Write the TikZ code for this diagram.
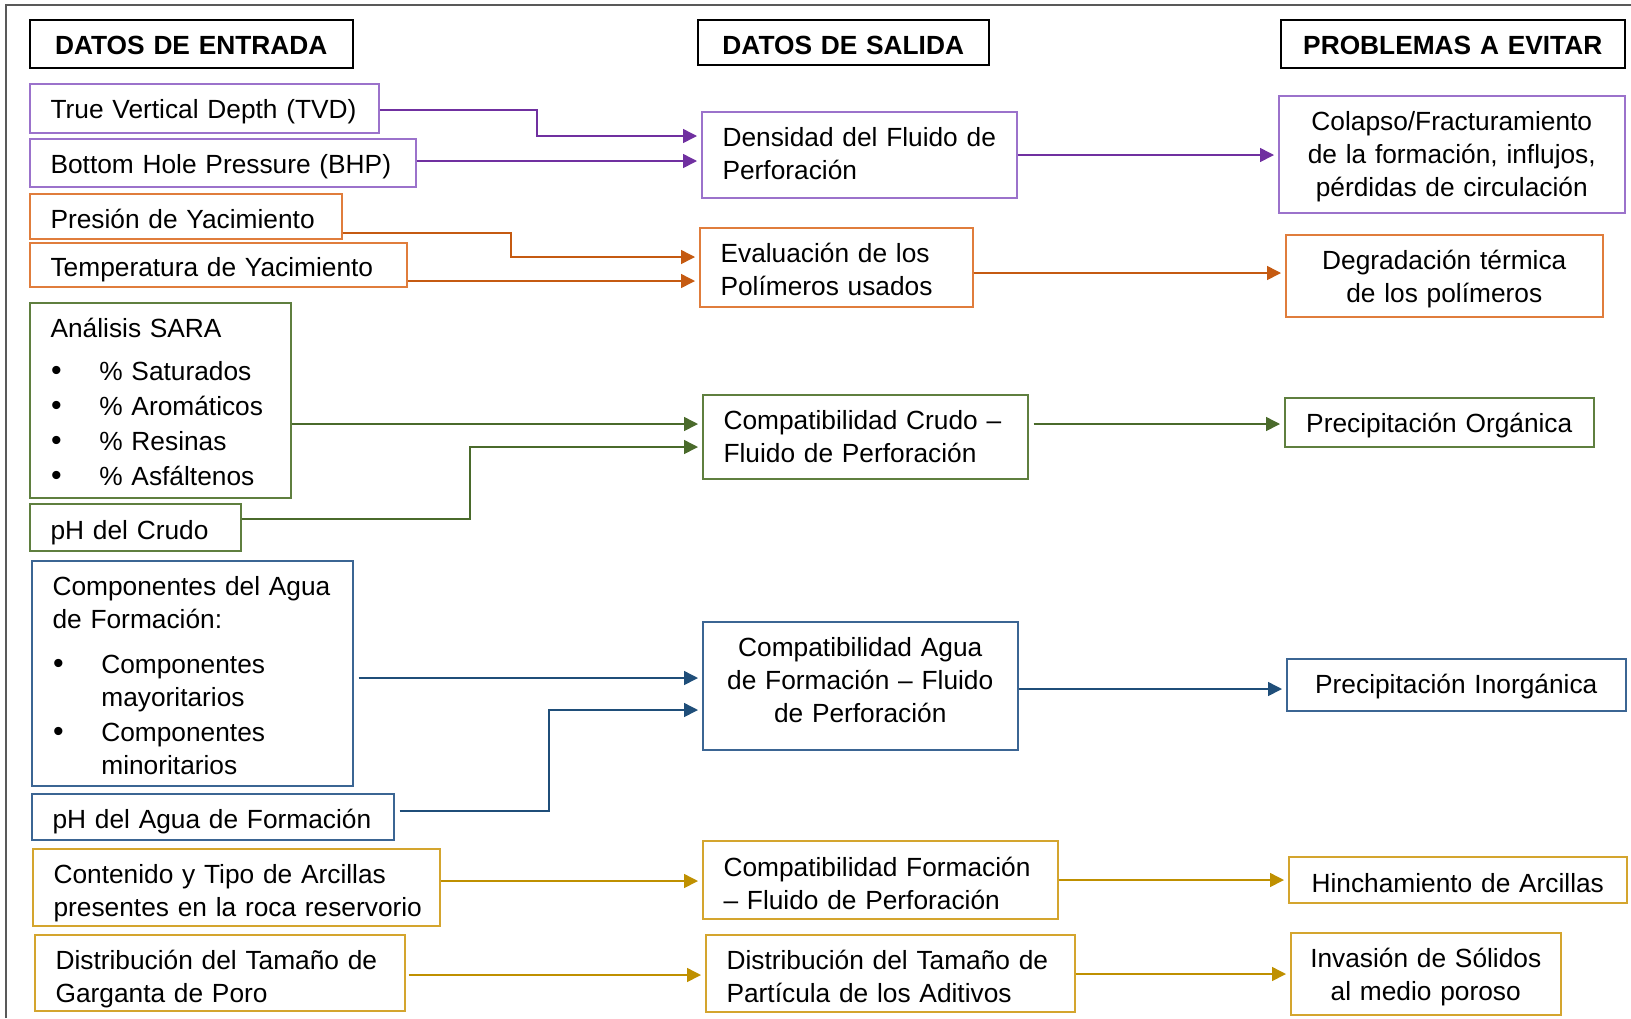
\documentclass[tikz,border=0pt]{standalone}
\usepackage{fontspec}
\usepackage{graphicx}
\setmainfont{Liberation Sans}
\usetikzlibrary{arrows.meta}

\definecolor{boxP}{HTML}{9B72CB}
\definecolor{arrP}{HTML}{7030A0}
\definecolor{boxO}{HTML}{E07D3C}
\definecolor{arrO}{HTML}{C55A11}
\definecolor{boxG}{HTML}{5F7F3F}
\definecolor{arrG}{HTML}{4A6A2B}
\definecolor{boxB}{HTML}{3B6593}
\definecolor{arrB}{HTML}{1F4E79}
\definecolor{boxY}{HTML}{D4A52E}
\definecolor{arrY}{HTML}{BF9000}
\definecolor{framegray}{HTML}{595959}

% bullet with hanging indent for the list items
\newcommand\itembullet{\makebox[24.4pt][l]{\hspace{0.3pt}\scalebox{1.15}{\textbullet}}}

\begin{document}
\begin{tikzpicture}[x=0.5pt,y=-0.5pt,
  every node/.style={font=\fontsize{13.15}{16.5}\selectfont, line width=0.75pt},
  % the first baseline sits a fixed distance below the top edge of every box
  hbox/.style={draw=black, anchor=north west, inner sep=0pt, align=center,
    text height=17.25pt, font=\fontsize{13.15}{16.5}\selectfont\bfseries},
  lbox/.style={draw=#1, anchor=north west, inner xsep=10.4pt, inner ysep=0pt,
    align=left, text height=17.25pt},
  cbox/.style={draw=#1, anchor=north west, inner sep=0pt, align=center,
    text height=17.25pt},
  conn/.style={draw=#1, line width=0.75pt, -{Triangle[length=7pt,width=7pt]}, shorten >=2pt},
]
\useasboundingbox (0,0) rectangle (1631,1018);

% page frame
\draw[framegray, line width=1pt] (6,1018) -- (6,5) -- (1631,5);

% column headings
\node[hbox, text width=161.5pt, text depth=6.75pt] (hin) at (29,19) {DATOS DE ENTRADA};
\node[hbox, text width=145.5pt, text depth=5.25pt] (hout) at (697,19) {DATOS DE SALIDA};
\node[hbox, text width=172pt, text depth=6.75pt] (hprob) at (1280,19) {PROBLEMAS A EVITAR};

% input data
\node[lbox=boxP, text width=153.7pt, text height=17.15pt, text depth=7.35pt] (tvd) at (29,83) {\mbox{True Vertical Depth (TVD)}};
\node[lbox=boxP, text width=172.2pt, text height=17.15pt, text depth=6.85pt] (bhp) at (29,138) {\mbox{Bottom Hole Pressure (BHP)}};
\node[lbox=boxO, text width=135.2pt, text height=17.15pt, text depth=5.35pt] (pyac) at (29,193) {\mbox{Presión de Yacimiento}};
\node[lbox=boxO, text width=167.7pt, text height=16.9pt, text depth=5.1pt] (tyac) at (29,242) {\mbox{Temperatura de Yacimiento}};
\node[lbox=boxG, text width=109.7pt, text depth=80.25pt] (sara) at (29,302)
  {\mbox{Análisis SARA}\\[5pt]
   \itembullet\% Saturados\\[1pt]
   \itembullet\% Aromáticos\\[1pt]
   \itembullet\% Resinas\\[1pt]
   \itembullet\% Asfáltenos};
\node[lbox=boxG, text width=84.7pt, text height=18pt, text depth=5.5pt] (phc) at (29,503) {\mbox{pH del Crudo}};
\node[lbox=boxB, text width=139.7pt, text depth=95.25pt] (agua) at (31,560)
  {\mbox{Componentes del Agua}\\
   \mbox{de Formación:}\\[5.9pt]
   \itembullet Componentes\\
   \hspace*{24.4pt}mayoritarios\\[1.2pt]
   \itembullet Componentes\\
   \hspace*{24.4pt}minoritarios};
\node[lbox=boxB, text width=160.2pt, text depth=5.75pt] (pha) at (31,793) {\mbox{pH del Agua de Formación}};
\node[lbox=boxY, text width=182.7pt, text depth=21.25pt] (arc) at (32,848)
  {\mbox{Contenido y Tipo de Arcillas}\\\mbox{presentes en la roca reservorio}};
\node[lbox=boxY, text width=164.2pt, text depth=20.75pt] (gar) at (34,934)
  {\mbox{Distribución del Tamaño de}\\\mbox{Garganta de Poro}};

% output data
\node[lbox=boxP, text width=136.7pt, text height=17.6pt, text depth=25.4pt] (dens) at (701,111)
  {\mbox{Densidad del Fluido de}\\\mbox{Perforación}};
\node[lbox=boxO, text width=115.7pt, text depth=22.25pt] (evalp) at (699,227)
  {\mbox{Evaluación de los}\\\mbox{Polímeros usados}};
\node[lbox=boxG, text width=141.7pt, text height=17.6pt, text depth=24.4pt] (crudo) at (702,394)
  {\mbox{Compatibilidad Crudo –}\\\mbox{Fluido de Perforación}};
\node[cbox=boxB, text width=157.5pt, text height=17.15pt, text depth=46.85pt] (aguac) at (702,621)
  {Compatibilidad Agua\\de Formación – Fluido\\de Perforación};
\node[lbox=boxY, text width=156.7pt, text height=18pt, text depth=21pt] (form) at (702,840)
  {\mbox{Compatibilidad Formación}\\\mbox{– Fluido de Perforación}};
\node[lbox=boxY, text width=163.7pt, text depth=21.25pt] (part) at (705,934)
  {\mbox{Distribución del Tamaño de}\\\mbox{Partícula de los Aditivos}};

% problems to avoid
\node[cbox=boxP, text width=173pt, text height=17.5pt, text depth=41pt] (colapso) at (1278,95)
  {Colapso/Fracturamiento\\de la formación, influjos,\\pérdidas de circulación};
\node[cbox=boxO, text width=158.5pt, text height=17.6pt, text depth=23.4pt] (degr) at (1285,234)
  {Degradación térmica\\de los polímeros};
\node[cbox=boxG, text width=154.5pt, text height=17.6pt, text depth=6.9pt] (porg) at (1284,397)
  {Precipitación Orgánica};
\node[cbox=boxB, text width=169.5pt, text depth=8.75pt] (pinorg) at (1286,658)
  {Precipitación Inorgánica};
\node[cbox=boxY, text width=169pt, text height=18.1pt, text depth=4.9pt] (hinch) at (1288,856)
  {Hinchamiento de Arcillas};
\node[cbox=boxY, text width=135pt, text height=17.5pt, text depth=23.5pt] (inv) at (1290,932)
  {Invasión de Sólidos\\al medio poroso};

% connectors: purple group
\draw[conn=arrP] (tvd.east |- 0,110) -| (537,136) -- (dens.west |- 0,136);
\draw[conn=arrP] (bhp.east |- 0,161) -- (dens.west |- 0,161);
\draw[conn=arrP] (dens.east |- 0,155) -- (colapso.west |- 0,155);
% orange group
\draw[conn=arrO] (pyac.east |- 0,233) -| (511,257) -- (evalp.west |- 0,257);
\draw[conn=arrO] (tyac.east |- 0,281) -- (evalp.west |- 0,281);
\draw[conn=arrO] (evalp.east |- 0,273) -- (degr.west |- 0,273);
% green group
\draw[conn=arrG] (sara.east |- 0,424) -- (crudo.west |- 0,424);
\draw[conn=arrG] (phc.east |- 0,519) -| (470,447) -- (crudo.west |- 0,447);
\draw[conn=arrG, shorten <=2.5pt] (crudo.east |- 0,424) -- (porg.west |- 0,424);
% blue group
\draw[conn=arrB, shorten <=2.5pt] (agua.east |- 0,678) -- (aguac.west |- 0,678);
\draw[conn=arrB, shorten <=2.5pt] (pha.east |- 0,811) -| (549,710) -- (aguac.west |- 0,710);
\draw[conn=arrB] (aguac.east |- 0,689) -- (pinorg.west |- 0,689);
% gold group
\draw[conn=arrY] (arc.east |- 0,881) -- (form.west |- 0,881);
\draw[conn=arrY] (form.east |- 0,880) -- (hinch.west |- 0,880);
\draw[conn=arrY, shorten <=1.5pt] (gar.east |- 0,975) -- (part.west |- 0,975);
\draw[conn=arrY] (part.east |- 0,974) -- (inv.west |- 0,974);
\end{tikzpicture}
\end{document}
